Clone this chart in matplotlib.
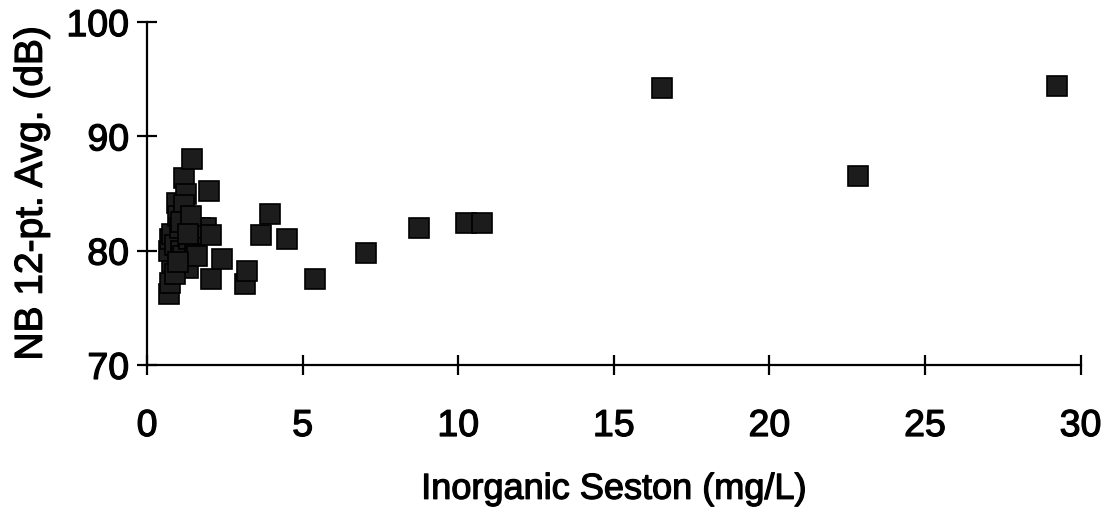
import matplotlib
matplotlib.use("Agg")
import matplotlib.pyplot as plt
import matplotlib.patheffects as pe

# Data
seston = [0.70, 0.75, 0.80, 0.70, 0.75, 0.80, 0.90, 0.95, 1.00, 1.05,
          1.10, 1.15, 1.20, 1.25, 1.30, 1.35, 1.45, 1.50, 1.55, 1.60,
          1.70, 1.80, 1.90, 2.05, 1.20, 1.10, 1.40, 0.90, 1.00, 1.30,
          2.00, 2.06, 2.40, 3.15, 3.20, 3.65, 3.95, 4.50, 5.40, 7.05,
          8.75, 10.25, 10.75, 16.55, 22.85, 29.25]
nb_avg = [76.2, 77.2, 79.0, 80.0, 81.0, 81.5, 80.5, 84.2, 83.0, 82.0,
          80.0, 79.5, 86.4, 85.0, 78.5, 81.0, 88.0, 82.0, 80.5, 79.5,
          82.0, 81.5, 82.0, 81.4, 84.0, 82.5, 83.0, 78.0, 79.0, 81.5,
          85.2, 77.5, 79.3, 77.1, 78.2, 81.4, 83.2, 81.0, 77.5, 79.8,
          82.0, 82.4, 82.4, 94.2, 86.5, 94.4]

x_ticks = [0, 5, 10, 15, 20, 25, 30]
y_ticks = [70, 80, 90, 100]

plt.rcParams['font.family'] = ['Liberation Sans', 'DejaVu Sans']

fig = plt.figure(figsize=(11.06, 5.14), dpi=100)
ax = fig.add_axes([0.133, 0.290, 0.844, 0.667])

ax.plot(seston, nb_avg, linestyle='none', marker='s', markersize=15,
        markerfacecolor='#1c1c1c', markeredgecolor='black', markeredgewidth=1.2,
        clip_on=False)

ax.set_xlim(0, 30)
ax.set_ylim(70, 100)
ax.set_xticks(x_ticks)
ax.set_yticks(y_ticks)

for s in ['top', 'right']:
    ax.spines[s].set_visible(False)
for s in ['left', 'bottom']:
    ax.spines[s].set_linewidth(1.6)
    ax.spines[s].set_color('black')

ax.tick_params(axis='both', direction='inout', length=14, width=1.6,
               labelsize=27, colors='black')
ax.tick_params(axis='x', pad=24)
ax.tick_params(axis='y', pad=6)

ax.set_xlabel('Inorganic Seston (mg/L)', fontsize=26, labelpad=20)
ax.set_ylabel('NB 12-pt. Avg. (dB)', fontsize=28, labelpad=12)

stroke = [pe.withStroke(linewidth=0.9, foreground='black')]
for t in ax.get_xticklabels() + ax.get_yticklabels() + [ax.xaxis.label, ax.yaxis.label]:
    t.set_path_effects(stroke)

fig.savefig('out.png', dpi=100, facecolor='white')
